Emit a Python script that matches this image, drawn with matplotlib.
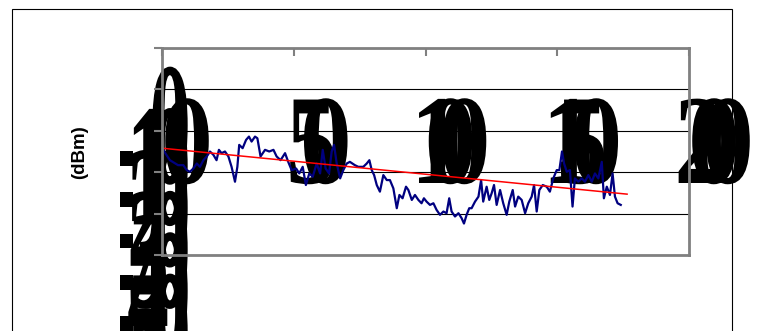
import matplotlib
matplotlib.use("Agg")
import matplotlib.pyplot as plt
from matplotlib import patheffects, transforms
from matplotlib.patches import Rectangle

# measured signal level along the route
dist = [0, 3.0, 6.1, 8.1, 9.4, 10.6, 11.9, 13.2, 14.4, 15.7, 17.0, 18.2, 19.5, 20.7, 21.6,
        22.6, 23.9, 25.2, 26.4, 27.7, 28.6, 29.3, 30.6, 31.9, 33.0, 34.0, 35.3, 36.2,
        37.4, 39.1, 40.7, 42.3, 43.5, 45.0, 46.7, 47.9, 49.2, 50.9, 52.1, 53.4, 54.6,
        55.9, 57.2, 58.7, 60.0, 61.0, 62.1, 63.4, 64.4, 65.3, 66.3, 67.6, 68.8, 70.1,
        71.3, 73.2, 74.5, 76.4, 77.7, 78.7, 79.6, 80.5, 81.5, 82.7, 84.0, 85.3, 86.5,
        87.8, 89.1, 90.1, 91.3, 92.6, 93.5, 94.8, 96.0, 97.3, 98.5, 99.4, 100.4, 101.7,
        103.0, 104.2, 105.5, 106.8, 108.0, 109.0, 109.9, 111.2, 112.5, 113.7, 114.6,
        115.6, 116.6, 117.5, 118.8, 120.1, 121.1, 121.9, 123.2, 124.2, 125.1, 126.0,
        127.0, 128.3, 129.5, 130.8, 131.8, 133.1, 134.0, 135.2, 136.5, 137.8, 139.0,
        140.3, 141.2, 142.2, 143.2, 144.5, 146.0, 147.2, 148.5, 149.8, 150.8, 151.8,
        152.6, 153.6, 154.8, 155.8, 156.7, 158.0, 159.3, 160.5, 161.8, 163.1, 164.3,
        165.6, 166.9, 167.7, 168.8, 170.0, 171.0, 171.9, 172.9, 174.1]
level = [-24.2, -27.1, -28.3, -28.3, -29.5, -29.9, -29.1, -27.9, -28.7, -27.1, -26.2, -25.0,
         -25.8, -27.1, -24.6, -25.4, -25.0, -26.2, -28.7, -32.3, -28.7, -23.4, -24.2,
         -22.2, -21.4, -22.6, -21.4, -21.8, -26.2, -24.6, -25.0, -24.6, -26.2, -27.1,
         -25.4, -27.5, -29.5, -29.1, -30.3, -28.7, -33.1, -30.3, -31.1, -27.9, -30.3,
         -24.6, -29.1, -30.3, -25.0, -23.4, -27.9, -31.5, -29.5, -27.9, -27.5, -28.3,
         -28.7, -28.7, -27.9, -27.1, -29.5, -30.7, -33.1, -34.7, -30.7, -31.9, -31.9,
         -33.9, -38.7, -35.5, -36.3, -33.5, -34.3, -36.7, -35.5, -36.7, -37.5, -36.3,
         -37.1, -37.9, -37.5, -39.1, -40.3, -39.5, -39.9, -36.3, -39.5, -40.7, -39.9,
         -41.1, -42.4, -40.3, -38.7, -38.7, -37.1, -35.9, -31.9, -37.1, -33.5, -36.7,
         -35.1, -33.1, -37.9, -34.3, -37.5, -40.3, -37.1, -34.3, -38.3, -35.9, -36.7,
         -39.9, -37.5, -35.9, -33.1, -39.5, -34.3, -33.1, -33.5, -34.7, -31.5, -29.5,
         -29.5, -25.0, -27.9, -29.9, -29.5, -38.3, -31.5, -32.3, -31.5, -32.3, -30.7,
         -32.3, -30.3, -31.5, -27.5, -36.3, -33.5, -35.5, -30.3, -35.9, -37.5, -37.9]

trend_x = [0, 176.5]
trend_y = [-24.2, -35.3]

x_ticks = [0, 50, 100, 150, 200]
y_ticks = [0, -10, -20, -30, -40, -50]
y_title = "(dBm)"


class Stretch(patheffects.AbstractPathEffect):
    """draw text glyphs scaled around their centre / baseline"""
    def __init__(self, sx=1.0, sy=1.0):
        super().__init__()
        self.sx, self.sy = sx, sy

    def draw_path(self, renderer, gc, tpath, affine, rgbFace=None):
        ext = tpath.get_extents(affine)
        cx = (ext.x0 + ext.x1) / 2
        by = affine.transform((0, 0))[1]
        st = transforms.Affine2D().translate(-cx, -by).scale(self.sx, self.sy).translate(cx, by)
        renderer.draw_path(gc, tpath, affine + st, rgbFace)


grey = "#808080"
fig = plt.figure(figsize=(7.63, 3.31), dpi=100)
ax = fig.add_axes([162 / 763, 1 - 255 / 331, 527 / 763, 207 / 331])
ax.patch.set_visible(False)

ax.plot(dist, level, color="#000080", lw=1.6, zorder=3)
ax.plot(trend_x, trend_y, color="red", lw=1.1, zorder=4)

ax.set_xlim(0, 200)
ax.set_ylim(-50, 0)
ax.xaxis.tick_top()
ax.set_xticks(x_ticks)
ax.set_yticks(y_ticks)
ax.tick_params(axis="x", direction="in", length=6, width=1.5, color=grey,
               labeltop=False, labelbottom=False)
ax.tick_params(axis="y", direction="out", length=6, width=1.5, color=grey,
               labelleft=False)
ax.yaxis.grid(True, color="black", lw=0.8)
ax.set_axisbelow(True)
for side in ["top", "right", "bottom", "left"]:
    ax.spines[side].set_color(grey)
    ax.spines[side].set_linewidth(2)
    ax.spines[side].set_zorder(5)

# oversized tick labels, rendered behind the plot area like in the source
glyph = dict(family="Liberation Serif", fontweight="bold", color="black",
             ha="center", va="baseline", zorder=-1, clip_on=False)
xbase = transforms.blended_transform_factory(ax.transData, ax.transAxes)
for v in x_ticks:
    s = str(v)
    for i, ch in enumerate(s):
        dx = 25 + (i - (len(s) - 1) / 2) * 14
        tr = transforms.offset_copy(xbase, fig=fig, x=dx, y=-135, units="dots")
        fig.text(v, 1.0, ch, transform=tr, fontsize=74,
                 path_effects=[Stretch(1.0, 1.24)], **glyph)

ybase = transforms.blended_transform_factory(ax.transAxes, ax.transData)
for v in y_ticks:
    s = str(v)
    for i, ch in enumerate(s):
        dx = 8 - (len(s) - 1 - i) * 22
        dy = -110 if ch == "-" else -135
        tr = transforms.offset_copy(ybase, fig=fig, x=dx, y=dy, units="dots")
        fig.text(0, v, ch, transform=tr, fontsize=60,
                 path_effects=[Stretch(0.6 if ch == "-" else 1.0, 2.1)], **glyph)

fig.text(80 / 763, 1 - 152 / 331, y_title, rotation=90, ha="center", va="center",
         family="Liberation Sans", fontweight="bold", fontsize=13.5)

fig.add_artist(Rectangle((12 / 763, -0.2), 720 / 763, 1.2 - 9 / 331,
                         transform=fig.transFigure, fill=False, ec="black", lw=0.8))

fig.savefig("out.png", dpi=100)
